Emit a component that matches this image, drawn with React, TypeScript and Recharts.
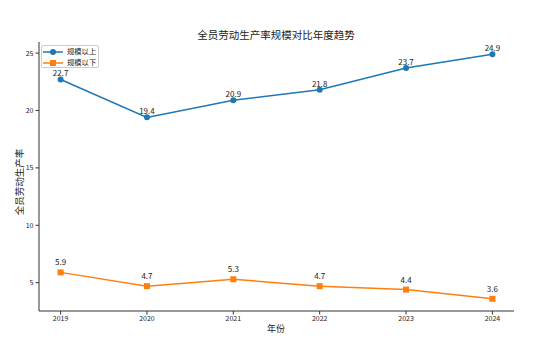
import React from 'react';
import { LineChart, Line, XAxis, YAxis, LabelList } from 'recharts';

const years = [2019, 2020, 2021, 2022, 2023, 2024];
const aboveScale = [22.7, 19.4, 20.9, 21.8, 23.7, 24.9];
const belowScale = [5.9, 4.7, 5.3, 4.7, 4.4, 3.6];
const yTicks = [5, 10, 15, 20, 25];

const data = years.map((year, i) => ({ year, above: aboveScale[i], below: belowScale[i] }));

const BLUE = '#1f77b4';
const ORANGE = '#ff7f0e';
const FONT = '"Noto Sans CJK SC", "DejaVu Sans", sans-serif';

const Square = (props: any) => {
  const { cx, cy } = props;
  if (cx == null || cy == null) return null;
  return <rect x={cx - 3} y={cy - 3} width={6} height={6} fill={ORANGE} />;
};

const legendItems = [
  { name: '规模以上', color: BLUE, shape: 'circle' },
  { name: '规模以下', color: ORANGE, shape: 'square' },
];

const LegendBox = () => (
  <div
    style={{
      position: 'absolute',
      left: 41,
      top: 45,
      width: 58,
      height: 23,
      boxSizing: 'border-box',
      border: '1px solid #ccc',
      borderRadius: 2,
      background: 'rgba(255,255,255,0.8)',
      padding: '0px 0px 0px 1px',
      fontSize: 7.3,
      color: '#222',
      lineHeight: '11px',
      zIndex: 2,
    }}
  >
    {legendItems.map((e) => (
      <div key={e.name} style={{ display: 'flex', alignItems: 'center', height: 11 }}>
        <svg width={20} height={10} style={{ marginRight: 4 }}>
          <line x1={0} y1={5} x2={20} y2={5} stroke={e.color} strokeWidth={1.5} />
          {e.shape === 'circle' ? (
            <circle cx={10} cy={5} r={3} fill={e.color} />
          ) : (
            <rect x={7} y={2} width={6} height={6} fill={e.color} />
          )}
        </svg>
        <span>{e.name}</span>
      </div>
    ))}
  </div>
);

export default function App() {
  return (
    <div style={{ position: 'absolute', left: 0, top: 0, width: 542, height: 340, background: '#fff', fontFamily: FONT }}>
      <div style={{ position: 'absolute', top: 27, left: 0, width: 552, textAlign: 'center', fontSize: 10.5, color: '#222' }}>
        全员劳动生产率规模对比年度趋势
      </div>
      <div style={{ position: 'absolute', top: 322, left: 0, width: 552, textAlign: 'center', fontSize: 9, color: '#222' }}>
        年份
      </div>
      <div
        style={{
          position: 'absolute',
          left: 19,
          top: 182,
          transform: 'translate(-50%, -50%) rotate(-90deg)',
          fontSize: 9.5,
          color: '#222',
          whiteSpace: 'nowrap',
        }}
      >
        全员劳动生产率
      </div>
      <LegendBox />
      <LineChart width={542} height={340} data={data} margin={{ top: 42, right: 28, bottom: 0, left: 8 }}>
        <XAxis
          dataKey="year"
          type="number"
          domain={[2018.75, 2024.25]}
          ticks={years}
          height={29}
          tickSize={3.5}
          tick={{ fontSize: 7, fill: '#222', fontFamily: FONT }}
          axisLine={{ stroke: '#333' }}
          tickLine={{ stroke: '#333' }}
          allowDataOverflow
        />
        <YAxis
          type="number"
          domain={[2.535, 25.965]}
          ticks={yTicks}
          width={31}
          tickSize={3.5}
          tick={{ fontSize: 7, fill: '#222', fontFamily: FONT }}
          axisLine={{ stroke: '#333' }}
          tickLine={{ stroke: '#333' }}
          allowDataOverflow
        />
        <Line
          dataKey="above"
          name="规模以上"
          stroke={BLUE}
          strokeWidth={1.5}
          dot={{ r: 3, fill: BLUE, stroke: BLUE, strokeWidth: 0 }}
          activeDot={false}
          isAnimationActive={false}
        >
          <LabelList dataKey="above" position="top" offset={3} style={{ fontSize: 8, fill: '#222', fontFamily: FONT }} />
        </Line>
        <Line
          dataKey="below"
          name="规模以下"
          stroke={ORANGE}
          strokeWidth={1.5}
          dot={<Square />}
          activeDot={false}
          isAnimationActive={false}
        >
          <LabelList dataKey="below" position="top" offset={7} style={{ fontSize: 8, fill: '#222', fontFamily: FONT }} />
        </Line>
      </LineChart>
    </div>
  );
}
